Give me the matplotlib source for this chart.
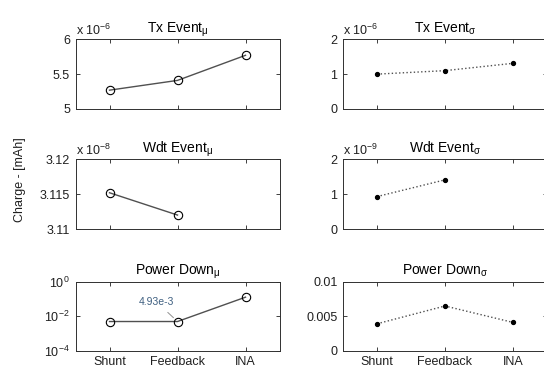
import numpy as np
import matplotlib
matplotlib.use("Agg")
import matplotlib.pyplot as plt
from matplotlib.ticker import FuncFormatter, FixedLocator, NullLocator

plt.rcParams["font.family"] = ["Liberation Sans", "DejaVu Sans"]
plt.rcParams["font.size"] = 9
plt.rcParams["mathtext.fontset"] = "custom"
plt.rcParams["mathtext.rm"] = "Liberation Sans"
plt.rcParams["mathtext.it"] = "Liberation Sans"
plt.rcParams["mathtext.default"] = "regular"

# measurement setups on the x axis
setups = ["Shunt", "Feedback", "INA"]

# mean charge per event [mAh]
tx_mu = [5.27e-6, 5.41e-6, 5.77e-6]
wdt_mu = [3.1152e-8, 3.1120e-8, np.nan]
pd_mu = [4.93e-3, 4.93e-3, 0.13]

# standard deviation per event [mAh]
tx_sigma = [1.00e-6, 1.10e-6, 1.31e-6]
wdt_sigma = [0.93e-9, 1.41e-9, np.nan]
pd_sigma = [0.0039, 0.0065, 0.0041]

# y tick values for each panel
tx_mu_ticks = [5e-6, 5.5e-6, 6e-6]
wdt_mu_ticks = [3.11e-8, 3.115e-8, 3.12e-8]
pd_mu_ticks = [1e-4, 1e-2, 1e0]
tx_sigma_ticks = [0, 1e-6, 2e-6]
wdt_sigma_ticks = [0, 1e-9, 2e-9]
pd_sigma_ticks = [0, 0.005, 0.01]

x = np.arange(1, len(setups) + 1)
line_col = "#505050"

fig = plt.figure(figsize=(5.44, 3.74), dpi=100)

rows = [0.7086, 0.3877, 0.0628]
heights = [0.1864, 0.1864, 0.1832]
cols = [0.1388, 0.6305]
width = 0.375


def style_axis(ax, ticks, exp=None, log=False):
    ax.set_xlim(0.5, 3.5)
    ax.set_xticks(x)
    ax.tick_params(direction="in", length=3, width=0.6, top=True, right=True,
                   colors="#202020", labelsize=9, pad=4)
    for s in ax.spines.values():
        s.set_linewidth(0.7)
        s.set_color("#303030")
    if log:
        ax.set_yscale("log")
        ax.set_ylim(ticks[0], ticks[-1])
        ax.yaxis.set_major_locator(FixedLocator(ticks))
        ax.yaxis.set_minor_locator(NullLocator())
        ax.yaxis.set_major_formatter(
            FuncFormatter(lambda v, p: "10$^{%d}$" % round(np.log10(v))))
    else:
        ax.set_ylim(ticks[0], ticks[-1])
        ax.set_yticks(ticks)
        scale = 10.0 ** exp if exp is not None else 1.0
        ax.yaxis.set_major_formatter(
            FuncFormatter(lambda v, p: "%g" % round(v / scale, 6)))
        if exp is not None:
            ax.text(0.0, 1.02, "x 10$^{%d}$" % exp, transform=ax.transAxes,
                    ha="left", va="bottom", fontsize=9, color="#202020")


def mean_panel(r, vals, ticks, title, exp=None, log=False):
    ax = fig.add_axes([cols[0], rows[r], width, heights[r]])
    ax.plot(x, vals, "-", color=line_col, lw=1.0, marker="o", ms=6,
            mfc="none", mec="black", mew=0.8)
    style_axis(ax, ticks, exp, log)
    ax.set_title(title + r"$_{\mu}$", fontsize=10, pad=5)
    return ax


def sigma_panel(r, vals, ticks, title, exp=None):
    ax = fig.add_axes([cols[1], rows[r], width, heights[r]])
    ax.plot(x, vals, ":", color=line_col, lw=1.0, marker="o", ms=2.8,
            mfc="black", mec="black")
    style_axis(ax, ticks, exp)
    ax.set_title(title + r"$_{\sigma}$", fontsize=10, pad=5)
    return ax


a1 = mean_panel(0, tx_mu, tx_mu_ticks, "Tx Event", exp=-6)
a2 = mean_panel(1, wdt_mu, wdt_mu_ticks, "Wdt Event", exp=-8)
a3 = mean_panel(2, pd_mu, pd_mu_ticks, "Power Down", log=True)
b1 = sigma_panel(0, tx_sigma, tx_sigma_ticks, "Tx Event", exp=-6)
b2 = sigma_panel(1, wdt_sigma, wdt_sigma_ticks, "Wdt Event", exp=-9)
b3 = sigma_panel(2, pd_sigma, pd_sigma_ticks, "Power Down")

for ax in (a1, a2, b1, b2):
    ax.set_xticklabels([])
for ax in (a3, b3):
    ax.set_xticklabels(setups)

# data tip on the Feedback mean of the power-down panel
a3.annotate("%.2fe-3" % (pd_mu[1] * 1e3), xy=(x[1], pd_mu[1]),
            xytext=(1.69, 0.07), ha="center", va="center",
            fontsize=7.5, color="#3e5f80",
            arrowprops=dict(arrowstyle="-", color="#909090", lw=0.7,
                            shrinkA=3, shrinkB=4))

fig.text(0.037, 0.52, "Charge - [mAh]", rotation=90, ha="center",
         va="center", fontsize=9, color="#202020")

fig.savefig("out.png", dpi=100)
